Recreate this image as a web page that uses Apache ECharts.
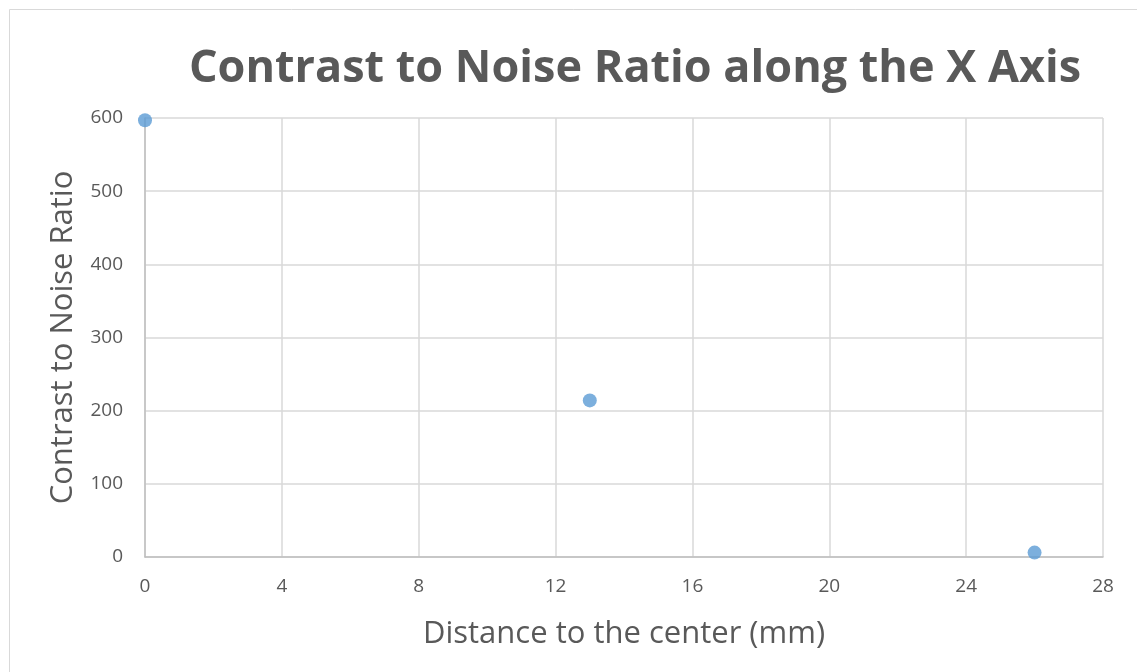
<!DOCTYPE html>
<html>
<head>
<meta charset="utf-8">
<script src="https://cdn.jsdelivr.net/npm/echarts@6/dist/echarts.min.js"></script>
<style>
html,body{margin:0;padding:0;background:#fff;}
#chart{width:1137px;height:672px;}
</style>
</head>
<body>
<div id="chart"></div>
<script>
const distances = [0, 13, 26];
const cnrValues = [597, 214, 6];
const xTicks = [0, 4, 8, 12, 16, 20, 24, 28];
const yTicks = [0, 100, 200, 300, 400, 500, 600];

const chart = echarts.init(document.getElementById('chart'));
const font = '"Open Sans", "DejaVu Sans", sans-serif';
chart.setOption({
  backgroundColor: '#fff',
  animation: false,
  graphic: [{
    type: 'rect',
    shape: {x: 9.5, y: 9.5, width: 1140, height: 680},
    style: {fill: 'none', stroke: '#d9d9d9', lineWidth: 1}
  }],
  title: {
    text: 'Contrast to Noise Ratio along the X Axis',
    left: 630, top: 42, textAlign: 'center',
    textStyle: {fontFamily: font, fontSize: 45, fontWeight: 'bold', color: '#595959'}
  },
  grid: {left: 145, right: 34, top: 118, bottom: 115, containLabel: false},
  xAxis: {
    type: 'value', min: 0, max: 28, interval: 4,
    name: 'Distance to the center (mm)', nameLocation: 'middle', nameGap: 62,
    nameTextStyle: {fontFamily: font, fontSize: 31, color: '#595959'},
    axisLine: {show: true, lineStyle: {color: '#bfbfbf', width: 1.5}},
    axisTick: {show: false},
    axisLabel: {fontFamily: font, fontSize: 19, color: '#595959', margin: 20,
      formatter: v => xTicks.includes(v) ? String(v) : ''},
    splitLine: {show: true, lineStyle: {color: '#d9d9d9', width: 1.5}}
  },
  yAxis: {
    type: 'value', min: 0, max: 600, interval: 100,
    name: 'Contrast to Noise Ratio', nameLocation: 'middle', nameGap: 66,
    nameTextStyle: {fontFamily: font, fontSize: 31, color: '#595959'},
    axisLine: {show: true, lineStyle: {color: '#bfbfbf', width: 1.5}},
    axisTick: {show: false},
    axisLabel: {fontFamily: font, fontSize: 19, color: '#595959', margin: 22,
      formatter: v => yTicks.includes(v) ? String(v) : ''},
    splitLine: {show: true, lineStyle: {color: '#d9d9d9', width: 1.5}}
  },
  series: [{
    type: 'scatter',
    data: distances.map((d, i) => [d, cnrValues[i]]),
    symbol: 'circle', symbolSize: 14,
    itemStyle: {color: '#5b9bd5'},
    clip: false
  }]
});
</script>
</body>
</html>
